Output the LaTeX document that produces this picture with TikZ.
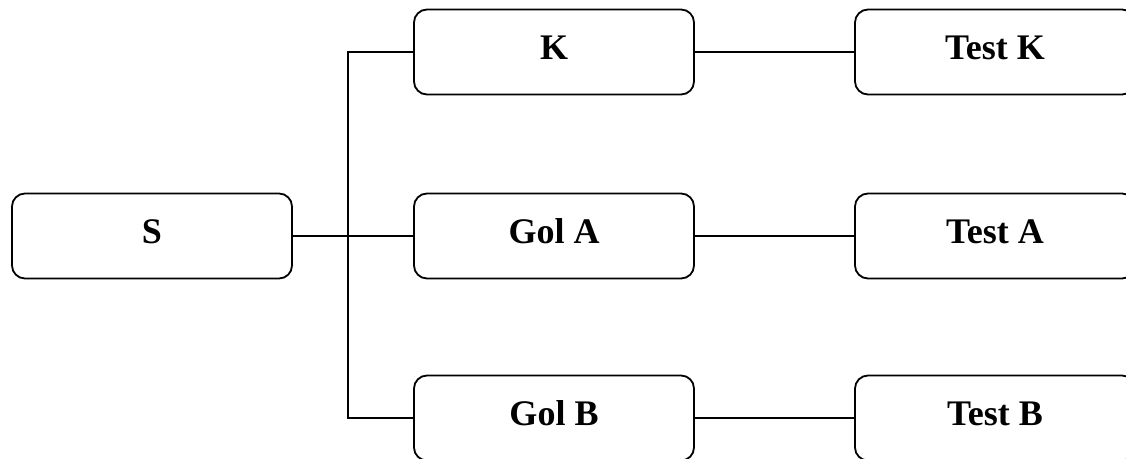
\documentclass[tikz,border=0pt]{standalone}
\usepackage{fontspec}
\setmainfont{Liberation Serif}
\begin{document}
\begin{tikzpicture}[x=1pt,y=-1pt,
  box/.style={draw,line width=1.8pt,rounded corners=13pt,minimum width=280pt,minimum height=85pt,inner sep=0pt,
    text height=24pt,text depth=10pt,
    font=\fontsize{36}{40}\selectfont\bfseries},
  conn/.style={line width=1.8pt}]
\useasboundingbox (0,0) rectangle (1126,458);
\clip (0,0) rectangle (1126,458);
\node[box] (S) at (152,236) {S};
\node[box] (K) at (554,52) {K};
\node[box] (GA) at (554,236) {Gol A};
\node[box] (GB) at (554,418) {Gol B};
\node[box] (TK) at (995,52) {Test K};
\node[box] (TA) at (995,236) {Test A};
\node[box] (TB) at (995,418) {Test B};
\coordinate (j) at (348,236);
\draw[conn] (K.west) -| (j) |- (GB.west);
\draw[conn] (S.east) -- (GA.west);
\draw[conn] (K.east) -- (TK.west);
\draw[conn] (GA.east) -- (TA.west);
\draw[conn] (GB.east) -- (TB.west);
\end{tikzpicture}
\end{document}
